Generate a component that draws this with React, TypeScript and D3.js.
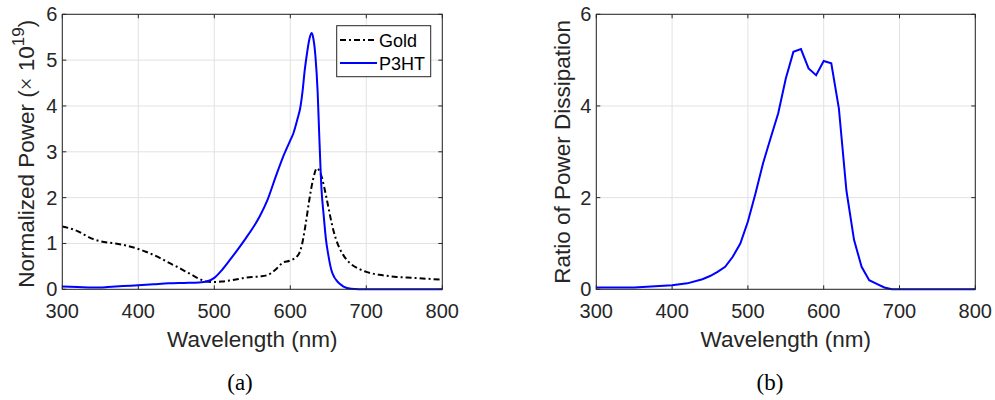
import React from "react";
import * as d3 from "d3";

// Left panel (a): Gold (dash-dot) and P3HT (solid blue), normalized power (x 1e19)
const goldWl = [300,310,320,330,340,350,360,370,380,390,400,410,420,430,440,450,460,470,480,490,500,510,520,530,540,550,560,570,580,590,600,610,615,620,625,630,635,640,645,650,655,660,670,680,690,700,720,740,760,780,800];
const goldVal = [1.37,1.33,1.27,1.18,1.10,1.05,1.02,1.00,0.97,0.93,0.88,0.82,0.75,0.67,0.58,0.50,0.41,0.32,0.23,0.17,0.16,0.17,0.19,0.22,0.25,0.27,0.28,0.31,0.42,0.58,0.63,0.74,0.95,1.40,1.95,2.40,2.64,2.52,2.20,1.80,1.40,1.10,0.74,0.55,0.45,0.38,0.31,0.27,0.25,0.23,0.21];

const p3htWl = [300,320,340,350,360,380,400,420,440,460,480,490,500,510,520,530,540,550,560,570,580,590,600,604,610,613,616,619,622,625,628,630,633,636,638,641,644,647,650,654,658,661,665,670,680,690,700,800];
const p3htVal = [0.06,0.05,0.04,0.04,0.05,0.07,0.09,0.11,0.13,0.14,0.15,0.17,0.25,0.42,0.63,0.85,1.08,1.32,1.60,1.95,2.42,2.87,3.25,3.40,3.75,3.95,4.30,4.78,5.15,5.45,5.59,5.50,5.10,4.30,3.40,2.20,1.60,1.08,0.75,0.42,0.26,0.19,0.12,0.06,0.01,0,0,0];

// Right panel (b): ratio of power dissipation
const ratioWl = [300,350,400,420,440,450,460,470,480,490,500,510,520,530,540,550,560,570,580,590,600,610,620,630,640,650,660,670,680,690,800];
const ratioVal = [0.04,0.04,0.09,0.13,0.22,0.29,0.38,0.49,0.71,1.00,1.48,2.09,2.75,3.30,3.84,4.60,5.18,5.24,4.82,4.67,4.98,4.93,3.95,2.15,1.08,0.49,0.20,0.12,0.04,0,0];

const xTicks = [300,400,500,600,700,800];
const yTicksLeft = [0,1,2,3,4,5,6];
const yTicksRight = [0,2,4,6];

const legendLabels = ["Gold","P3HT"];
const captions = ["(a)","(b)"];

const AX = "#262626";
const GRID = "#e2e2e2";
const SANS = "'Liberation Sans', Arial, Helvetica, sans-serif";
const SERIF = "'Liberation Serif', 'Times New Roman', serif";

type PanelProps = {
  x0: number; x1: number; y0: number; y1: number;
  yTicks: number[];
  children: (x: d3.ScaleLinear<number, number>, y: d3.ScaleLinear<number, number>) => React.ReactNode;
};

function Panel({ x0, x1, y0, y1, yTicks, children }: PanelProps) {
  const x = d3.scaleLinear().domain([300, 800]).range([x0, x1]);
  const y = d3.scaleLinear().domain([0, 6]).range([y1, y0]);
  const tl = 4;
  return (
    <g>
      {xTicks.map((t) => (
        <line key={"gx" + t} x1={x(t)} x2={x(t)} y1={y0} y2={y1} stroke={GRID} strokeWidth={1} />
      ))}
      {yTicks.map((t) => (
        <line key={"gy" + t} x1={x0} x2={x1} y1={y(t)} y2={y(t)} stroke={GRID} strokeWidth={1} />
      ))}
      {children(x, y)}
      <rect x={x0} y={y0} width={x1 - x0} height={y1 - y0} fill="none" stroke={AX} strokeWidth={1} />
      {xTicks.map((t) => (
        <g key={"tx" + t}>
          <line x1={x(t)} x2={x(t)} y1={y1} y2={y1 - tl} stroke={AX} />
          <line x1={x(t)} x2={x(t)} y1={y0} y2={y0 + tl} stroke={AX} />
          <text x={x(t)} y={y1 + 29} textAnchor="middle" fontSize={20} fontFamily={SANS} fill={AX}>{t}</text>
        </g>
      ))}
      {yTicks.map((t) => (
        <g key={"ty" + t}>
          <line x1={x0} x2={x0 + tl} y1={y(t)} y2={y(t)} stroke={AX} />
          <line x1={x1} x2={x1 - tl} y1={y(t)} y2={y(t)} stroke={AX} />
          <text x={x0 - 5} y={y(t) + 7} textAnchor="end" fontSize={20} fontFamily={SANS} fill={AX}>{t}</text>
        </g>
      ))}
      <text x={(x0 + x1) / 2} y={y1 + 58} textAnchor="middle" fontSize={22.5} fontFamily={SANS} fill={AX}>Wavelength (nm)</text>
    </g>
  );
}

export default function App() {
  const lineFor = (x: d3.ScaleLinear<number, number>, y: d3.ScaleLinear<number, number>, wl: number[], v: number[], curve: d3.CurveFactory) =>
    d3.line<number>().x((_, i) => x(wl[i])).y((d) => y(d)).curve(curve)(v) || "";

  const Lx0 = 62.3, Lx1 = 442.3, Rx0 = 596.3, Rx1 = 975.3, Y0 = 14.3, Y1 = 289.3;

  return (
    <svg width={995} height={400} style={{ position: "absolute", left: 0, top: 0, background: "#fff" }}>
      <rect x={0} y={0} width={995} height={400} fill="#fff" />
      <Panel x0={Lx0} x1={Lx1} y0={Y0} y1={Y1} yTicks={yTicksLeft}>
        {(x, y) => (
          <g>
            <path d={lineFor(x, y, goldWl, goldVal, d3.curveMonotoneX)} fill="none" stroke="#000" strokeWidth={2} strokeDasharray="6,3,2,3" />
            <path d={lineFor(x, y, p3htWl, p3htVal, d3.curveMonotoneX)} fill="none" stroke="#0000ff" strokeWidth={2} />
            <rect x={336.7} y={25.7} width={94} height={51} fill="#fff" stroke={AX} strokeWidth={1} />
            <line x1={340} x2={377} y1={40} y2={40} stroke="#000" strokeWidth={2} strokeDasharray="6,3,2,3" />
            <line x1={340} x2={377} y1={63} y2={63} stroke="#0000ff" strokeWidth={2} />
            <text x={379} y={46.5} fontSize={18} fontFamily={SANS} fill="#000">{legendLabels[0]}</text>
            <text x={379} y={69.5} fontSize={18} fontFamily={SANS} fill="#000">{legendLabels[1]}</text>
          </g>
        )}
      </Panel>
      <Panel x0={Rx0} x1={Rx1} y0={Y0} y1={Y1} yTicks={yTicksRight}>
        {(x, y) => (
          <path d={lineFor(x, y, ratioWl, ratioVal, d3.curveLinear)} fill="none" stroke="#0000ff" strokeWidth={2} />
        )}
      </Panel>
      <text transform={`translate(33.5,${(Y0 + Y1) / 2 + 2}) rotate(-90)`} textAnchor="middle" fontSize={22.5} fontFamily={SANS} fill={AX}>
        Normalized Power (<tspan fontFamily={SERIF}>×</tspan> 10<tspan dy={-10} fontSize={17}>19</tspan><tspan dy={10}>)</tspan>
      </text>
      <text transform={`translate(570,${(Y0 + Y1) / 2}) rotate(-90)`} textAnchor="middle" fontSize={22.5} fontFamily={SANS} fill={AX}>
        Ratio of Power Dissipation
      </text>
      <text x={240} y={390} textAnchor="middle" fontSize={23} fontFamily={SERIF} fill="#000">{captions[0]}</text>
      <text x={770} y={390} textAnchor="middle" fontSize={23} fontFamily={SERIF} fill="#000">{captions[1]}</text>
    </svg>
  );
}
